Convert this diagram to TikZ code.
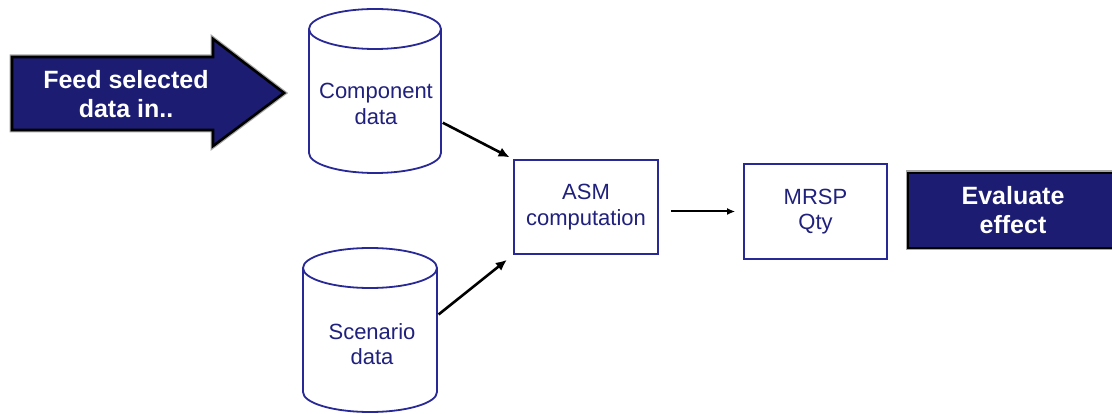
\documentclass[tikz,border=0pt]{standalone}
\usepackage{fontspec}
\setmainfont{Liberation Sans}
\usetikzlibrary{arrows.meta,calc}

\definecolor{navyfill}{RGB}{28,28,115}
\definecolor{navyline}{RGB}{40,40,150}
\definecolor{navytext}{RGB}{32,32,125}
\definecolor{haze}{RGB}{165,165,165}

% cylinder outline drawn around a named (invisible) area node
% #1 node name, #2 x radius of the end ellipses
\newcommand\drawcyl[2]{%
  \draw[cylline] ([yshift=-20pt]#1.north west) -- ([yshift=20pt]#1.south west)
     arc[start angle=180, end angle=360, x radius=#2, y radius=20pt]
     -- ([yshift=-20pt]#1.north east);
  \draw[cylline] ([yshift=-20pt]#1.north) ellipse[x radius=#2, y radius=20pt];
}

\begin{document}
\begin{tikzpicture}[x=1pt,y=-1pt,
  lbl/.style={font=\fontsize{22}{25.5}\selectfont, text=navytext, align=center, inner sep=0pt},
  banner/.style={font=\bfseries\fontsize{25}{29}\selectfont, text=white, align=center, inner sep=0pt},
  cylarea/.style={minimum height=164pt, inner sep=0pt, outer sep=0pt},
  cylline/.style={draw=navyline, line width=1.8pt, fill=white},
  procbox/.style={lbl, draw=navyline, line width=1.7pt, fill=white},
  darkbox/.style={banner, fill=navyfill, draw=black, line width=2.6pt,
                  preaction={draw=haze, line width=5pt}},
  flow/.style={line width=2.6pt, -{Latex[length=11pt,width=10pt]}},
  thinflow/.style={line width=2pt, -{Latex[length=8pt,width=7pt]}},
]
\useasboundingbox (0,0) rectangle (1112,414);

% input banner arrow
\draw[haze, line width=5pt, line join=miter]
  (12,57) -- (213,57) -- (213,39) -- (284,93) -- (213,146) -- (213,130) -- (12,130) -- cycle;
\filldraw[fill=navyfill, draw=black, line width=2.6pt, line join=miter]
  (12,57) -- (213,57) -- (213,39) -- (284,93) -- (213,146) -- (213,130) -- (12,130) -- cycle;
\node[banner] (feed) at (126,94) {Feed selected\\data in..};

% data stores
\node[cylarea, minimum width=132pt] (comp) at (375,91) {};
\drawcyl{comp}{66pt}
\node[lbl] (compLabel) at (376,104) {Component\\data};

\node[cylarea, minimum width=134pt] (scen) at (370,330) {};
\drawcyl{scen}{67pt}
\node[lbl] (scenLabel) at (372,344) {Scenario\\data};

% processing steps
\node[procbox, minimum width=144pt, minimum height=94pt] (asm) at (586,207) {ASM\\computation};
\node[procbox, minimum width=143pt, minimum height=95pt] (mrsp) at (815.5,211.5) {MRSP\\Qty};

% result banner
\node[darkbox, minimum width=210pt, minimum height=75pt] (eval) at (1013,210.5) {Evaluate\\effect};

% connectors
\draw[flow, shorten <=2pt, shorten >=4pt] (comp.-25) -- (asm.north west);
\draw[flow, shorten <=2pt, shorten >=8pt] (scen.12) -- (asm.south west);
\draw[thinflow, shorten <=12pt, shorten >=8pt] (asm.east |- mrsp.west) -- (mrsp.west);
\end{tikzpicture}
\end{document}
